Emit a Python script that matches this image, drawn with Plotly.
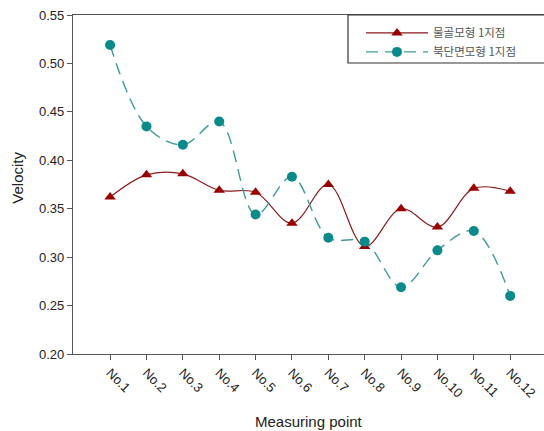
import plotly.graph_objects as go

points = ["No.1", "No.2", "No.3", "No.4", "No.5", "No.6", "No.7", "No.8", "No.9", "No.10", "No.11", "No.12"]
series_a_name = "물골모형 1지점"
series_a = [0.362, 0.385, 0.386, 0.369, 0.367, 0.335, 0.375, 0.311, 0.350, 0.331, 0.371, 0.368]
series_b_name = "북단면모형 1지점"
series_b = [0.519, 0.435, 0.416, 0.440, 0.344, 0.383, 0.320, 0.316, 0.269, 0.307, 0.327, 0.260]
y_ticks = [0.20, 0.25, 0.30, 0.35, 0.40, 0.45, 0.50, 0.55]

xs = list(range(1, len(points) + 1))

fig = go.Figure()
fig.add_trace(go.Scatter(
    x=xs, y=series_a, name=series_a_name, mode="lines+markers",
    line=dict(color="#8b1a1a", width=1.2, shape="spline", smoothing=1.0),
    marker=dict(symbol="triangle-up", size=10, color="#990000"),
))
fig.add_trace(go.Scatter(
    x=xs, y=series_b, name=series_b_name, mode="lines+markers",
    line=dict(color="#3c9a9a", width=1.4, shape="spline", smoothing=1.0, dash="12px,7px"),
    marker=dict(symbol="circle", size=10, color="#0a8a8a"),
))

font_main = "Liberation Sans, Arial, Noto Sans CJK KR, sans-serif"

fig.update_layout(
    width=544, height=431,
    margin=dict(l=73, r=0, t=15, b=77, autoexpand=False),
    paper_bgcolor="white", plot_bgcolor="white",
    font=dict(family=font_main, size=13, color="#222"),
    showlegend=True,
    legend=dict(
        x=(361 - 73) / 471, y=0.99, xanchor="left", yanchor="top",
        bgcolor="rgba(0,0,0,0)", borderwidth=0,
        font=dict(family="Noto Sans CJK KR, sans-serif", size=11.5, color="#555"),
        itemwidth=62, tracegroupgap=0,
    ),
    xaxis=dict(
        range=[-0.02, 12.93],
        tickmode="array", tickvals=xs, ticktext=points,
        tickangle=45, ticks="outside", ticklen=5, tickcolor="#555",
        showline=True, linecolor="#555", linewidth=1.2, mirror=True,
        showgrid=False, zeroline=False,
        tickfont=dict(size=13),
    ),
    yaxis=dict(
        range=[0.20, 0.55],
        tickmode="array", tickvals=y_ticks, ticktext=[f"{v:.2f}" for v in y_ticks],
        ticks="outside", ticklen=5, tickcolor="#555",
        showline=True, linecolor="#555", linewidth=1.2,
        showgrid=False, zeroline=False,
        tickfont=dict(size=13),
    ),
    annotations=[
        dict(text="Measuring point", xref="paper", yref="paper", x=0.5, y=(354 - 421) / 339,
             xanchor="center", yanchor="middle", showarrow=False, font=dict(size=15)),
        dict(text="Velocity", xref="paper", yref="paper", x=(18 - 73) / 471, y=0.52,
             xanchor="center", yanchor="middle", textangle=-90, showarrow=False, font=dict(size=15)),
    ],
)

fig.add_shape(
    type="rect", xref="paper", yref="paper",
    x0=(348 - 73) / 471, x1=1.2, y0=(354 - 63) / 339, y1=1.0,
    line=dict(color="#333", width=1.2), fillcolor="rgba(0,0,0,0)",
)

fig.write_html("out.html", config={"displayModeBar": False},
               post_script="document.body.style.margin='0';")
